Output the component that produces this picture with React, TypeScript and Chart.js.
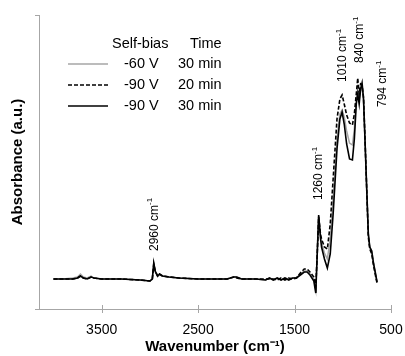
import React, { useEffect, useRef } from "react";
import { Chart, registerables } from "chart.js";

Chart.register(...registerables);

const wavenumbers = [4000,3900,3800,3750,3720,3690,3650,3610,3580,3500,3300,3100,3000,2975,2960,2945,2920,2900,2870,2800,2700,2500,2300,2200,2130,2100,2050,1900,1800,1760,1720,1680,1640,1600,1560,1520,1480,1440,1400,1370,1340,1300,1280,1265,1250,1230,1220,1190,1160,1130,1100,1060,1030,1007,985,960,930,900,880,860,845,830,815,800,785,770,750,735,720,700,680,660,645];

const gray60V30 = [0.30,0.30,0.31,0.32,0.35,0.32,0.31,0.33,0.31,0.30,0.30,0.29,0.28,0.30,0.44,0.37,0.33,0.34,0.33,0.32,0.31,0.30,0.30,0.30,0.32,0.32,0.30,0.30,0.29,0.31,0.29,0.31,0.29,0.31,0.30,0.31,0.31,0.35,0.38,0.38,0.35,0.30,0.19,0.55,0.93,0.72,0.66,0.56,0.50,0.70,1.10,1.70,1.95,1.99,1.92,1.78,1.66,1.64,1.80,2.10,2.20,2.10,2.18,2.22,2.10,1.70,1.15,0.75,0.62,0.58,0.45,0.35,0.27];

const dashed90V20 = [0.30,0.30,0.30,0.31,0.33,0.31,0.30,0.32,0.31,0.30,0.30,0.29,0.28,0.30,0.45,0.38,0.33,0.35,0.33,0.32,0.31,0.30,0.30,0.30,0.32,0.31,0.30,0.30,0.30,0.30,0.30,0.29,0.31,0.29,0.31,0.30,0.31,0.36,0.40,0.40,0.37,0.32,0.22,0.55,0.92,0.74,0.70,0.62,0.60,0.85,1.30,1.90,2.10,2.14,2.05,1.94,1.86,1.84,1.95,2.15,2.31,2.15,2.25,2.24,2.12,1.72,1.15,0.72,0.60,0.55,0.43,0.33,0.26];

const solid90V30 = [0.30,0.30,0.30,0.31,0.33,0.31,0.30,0.32,0.31,0.30,0.30,0.29,0.28,0.30,0.46,0.38,0.33,0.35,0.33,0.32,0.31,0.30,0.30,0.30,0.32,0.32,0.30,0.30,0.29,0.31,0.29,0.31,0.29,0.31,0.29,0.31,0.31,0.34,0.37,0.37,0.34,0.28,0.16,0.55,0.94,0.70,0.62,0.50,0.41,0.55,0.95,1.60,1.90,1.97,1.85,1.65,1.50,1.49,1.70,2.05,2.15,2.05,2.20,2.26,2.10,1.70,1.15,0.75,0.62,0.58,0.45,0.35,0.27];

const xTicks = [500, 1500, 2500, 3500];

const legendBias = ["-60 V", "-90 V", "-90 V"];
const legendTime = ["30 min", "20 min", "30 min"];

const peakLabels = ["2960", "1260", "1010", "840", "794"];
const peakLabelX = [2955, 1245, 1000, 820, 590];
const peakLabelBase = [0.58, 1.09, 2.27, 2.46, 2.02];

const FONT = "'Liberation Sans', Arial, sans-serif";
const AXIS_GRAY = "#a6a6a6";

const customPlugin = {
  id: "custom",
  afterDraw(chart: any) {
    const ctx = chart.ctx;
    const { left, right, top, bottom } = chart.chartArea;
    const xs = chart.scales.x;
    const ys = chart.scales.y;
    ctx.save();
    // axes
    ctx.strokeStyle = AXIS_GRAY;
    ctx.lineWidth = 1;
    ctx.beginPath();
    ctx.moveTo(left - 4, Math.round(bottom) + 0.5);
    ctx.lineTo(right, Math.round(bottom) + 0.5);
    ctx.moveTo(Math.round(left) + 0.5, bottom);
    ctx.lineTo(Math.round(left) + 0.5, top);
    ctx.moveTo(left - 4, Math.round(top) + 0.5);
    ctx.lineTo(left, Math.round(top) + 0.5);
    for (const v of xTicks) {
      const px = Math.round(xs.getPixelForValue(v)) + 0.5;
      ctx.moveTo(px, bottom - 4);
      ctx.lineTo(px, bottom + 4);
    }
    ctx.stroke();

    // peak labels
    ctx.fillStyle = "#000";
    ctx.textBaseline = "middle";
    ctx.textAlign = "left";
    for (let i = 0; i < peakLabels.length; i++) {
      const px = xs.getPixelForValue(peakLabelX[i]);
      const py = ys.getPixelForValue(peakLabelBase[i]);
      ctx.save();
      ctx.translate(px, py);
      ctx.rotate(-Math.PI / 2);
      ctx.font = `12px ${FONT}`;
      const t = peakLabels[i] + " cm";
      ctx.fillText(t, 0, 0);
      const w = ctx.measureText(t).width;
      ctx.font = `8px ${FONT}`;
      ctx.fillText("-1", w, -4);
      ctx.restore();
    }

    // legend
    const dsets = chart.data.datasets;
    ctx.font = `14.5px ${FONT}`;
    ctx.textBaseline = "middle";
    ctx.fillText("Self-bias", 112, 44);
    ctx.fillText("Time", 190, 44);
    const rowY = [64, 85, 106];
    for (let i = 0; i < 3; i++) {
      const ds = dsets[i];
      ctx.save();
      ctx.strokeStyle = ds.borderColor;
      ctx.lineWidth = ds.borderWidth;
      ctx.setLineDash(ds.borderDash || []);
      ctx.beginPath();
      ctx.moveTo(68, rowY[i]);
      ctx.lineTo(108, rowY[i]);
      ctx.stroke();
      ctx.restore();
      ctx.fillStyle = "#000";
      ctx.fillText(legendBias[i], 124, rowY[i]);
      ctx.fillText(legendTime[i], 178, rowY[i]);
    }
    ctx.restore();
  },
};

export default function App() {
  const ref = useRef<HTMLCanvasElement>(null);
  useEffect(() => {
    document.body.style.margin = "0";
    const mk = (arr: number[]) => wavenumbers.map((w, i) => ({ x: w, y: arr[i] }));
    const chart = new Chart(ref.current as HTMLCanvasElement, {
      type: "line",
      data: {
        datasets: [
          { label: "-60 V 30 min", data: mk(gray60V30), borderColor: "#a6a6a6", borderWidth: 1.5, pointRadius: 0, order: 2, tension: 0 },
          { label: "-90 V 20 min", data: mk(dashed90V20), borderColor: "#000", borderWidth: 1.6, borderDash: [4, 2], pointRadius: 0, order: 1, tension: 0 },
          { label: "-90 V 30 min", data: mk(solid90V30), borderColor: "#000", borderWidth: 1.6, pointRadius: 0, order: 0, tension: 0 },
        ],
      },
      options: {
        animation: false,
        responsive: false,
        maintainAspectRatio: false,
        layout: { padding: { top: 15, right: 14, left: 9, bottom: 0 } },
        plugins: { legend: { display: false }, tooltip: { enabled: false } },
        scales: {
          x: {
            type: "linear",
            reverse: true,
            min: 500,
            max: 4150,
            afterBuildTicks: (s: any) => { s.ticks = xTicks.map((v) => ({ value: v })); },
            afterFit: (s: any) => { s.height = 47; },
            grid: { display: false, drawTicks: false },
            border: { display: false },
            ticks: { color: "#000", font: { family: FONT, size: 14 }, padding: 13, maxRotation: 0, callback: (v: any) => String(v) },
            title: { display: true, text: "Wavenumber (cm⁻¹)", color: "#000", font: { family: FONT, size: 15, weight: "bold" }, padding: 0 },
          },
          y: {
            min: 0,
            max: 2.94,
            afterFit: (s: any) => { s.width = 30; },
            grid: { display: false, drawTicks: false },
            border: { display: false },
            ticks: { display: false },
            title: { display: true, text: "Absorbance (a.u.)", color: "#000", font: { family: FONT, size: 15, weight: "bold" }, padding: 0 },
          },
        },
      },
      plugins: [customPlugin],
    });
    return () => chart.destroy();
  }, []);
  return (
    <div style={{ width: 405, height: 356, background: "#fff" }}>
      <canvas ref={ref} width={405} height={356} style={{ display: "block" }} />
    </div>
  );
}
